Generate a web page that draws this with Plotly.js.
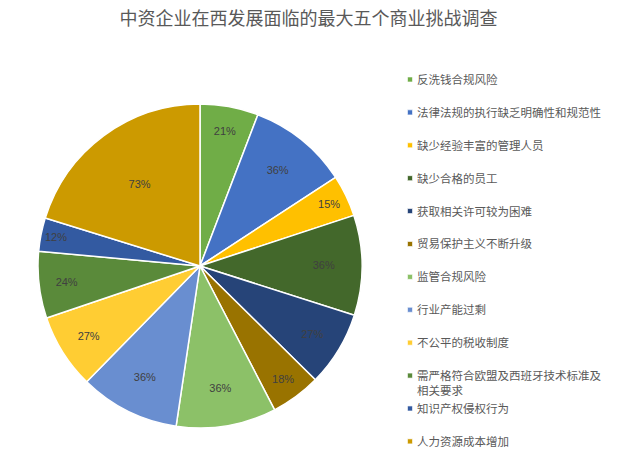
<!DOCTYPE html>
<html>
<head>
<meta charset="utf-8">
<script src="https://cdn.plot.ly/plotly-3.0.1.min.js"></script>
<style>
  html, body { margin: 0; padding: 0; background: #fff; }
  #chart { width: 617px; height: 469px; }
</style>
</head>
<body>
<div id="chart"></div>
<script>
const chartTitle = '中资企业在西发展面临的最大五个商业挑战调查';
const categories = [
    '反洗钱合规风险',
    '法律法规的执行缺乏明确性和规范性',
    '缺少经验丰富的管理人员',
    '缺少合格的员工',
    '获取相关许可较为困难',
    '贸易保护主义不断升级',
    '监管合规风险',
    '行业产能过剩',
    '不公平的税收制度',
    '需严格符合欧盟及西班牙技术标准及<br>相关要求',
    '知识产权侵权行为',
    '人力资源成本增加'
];
const percents = [21, 36, 15, 36, 27, 18, 36, 36, 27, 24, 12, 73];
const sliceColors = [
    '#70AD47', '#4472C4', '#FFC000', '#43682B', '#264478', '#997300',
    '#8CC168', '#698ED0', '#FFCD33', '#5A8A3A', '#335AA1', '#CC9A00'
];

// single-line entries get an empty second line so every entry takes the same height
const legendLabels = categories.map(c => c.includes('<br>') ? c : c + '<br> ');

const trace = {
    type: 'pie',
    labels: legendLabels,
    values: percents,
    text: percents.map(v => v + '%'),
    textinfo: 'text',
    textposition: 'inside',
    insidetextorientation: 'horizontal',
    textfont: { family: 'Liberation Sans, Arial, sans-serif', size: 11, color: '#404040' },
    sort: false,
    direction: 'clockwise',
    rotation: 0,
    marker: { colors: sliceColors, line: { color: '#ffffff', width: 1.5 } },
    domain: { x: [38 / 617, 362 / 617], y: [1 - 428 / 469, 1 - 104 / 469] },
    hoverinfo: 'label+value'
};

const layout = {
    width: 617,
    height: 469,
    // the tall legend must not push the margins and shrink the pie
    margin: { l: 0, r: 0, t: 0, b: 0, autoexpand: false },
    paper_bgcolor: '#ffffff',
    title: {
        text: chartTitle,
        x: 0.5,
        xanchor: 'center',
        y: 1 - 19 / 469,
        yanchor: 'middle',
        font: { family: 'Noto Sans CJK SC, sans-serif', size: 18, color: '#595959' }
    },
    showlegend: true,
    legend: {
        x: 377 / 617,
        xanchor: 'left',
        y: 1 - 65.5 / 469,
        yanchor: 'top',
        valign: 'top',
        font: { family: 'Noto Sans CJK SC, sans-serif', size: 11.5, color: '#595959' },
        traceorder: 'normal'
    }
};

Plotly.newPlot('chart', [trace], layout, { displayModeBar: false, staticPlot: true }).then(function (gd) {
    // smaller legend squares, closer to the text
    gd.querySelectorAll('.legendpoints path').forEach(function (p) {
        p.setAttribute('transform', 'translate(33,0) scale(0.42)');
    });
});
</script>
</body>
</html>
